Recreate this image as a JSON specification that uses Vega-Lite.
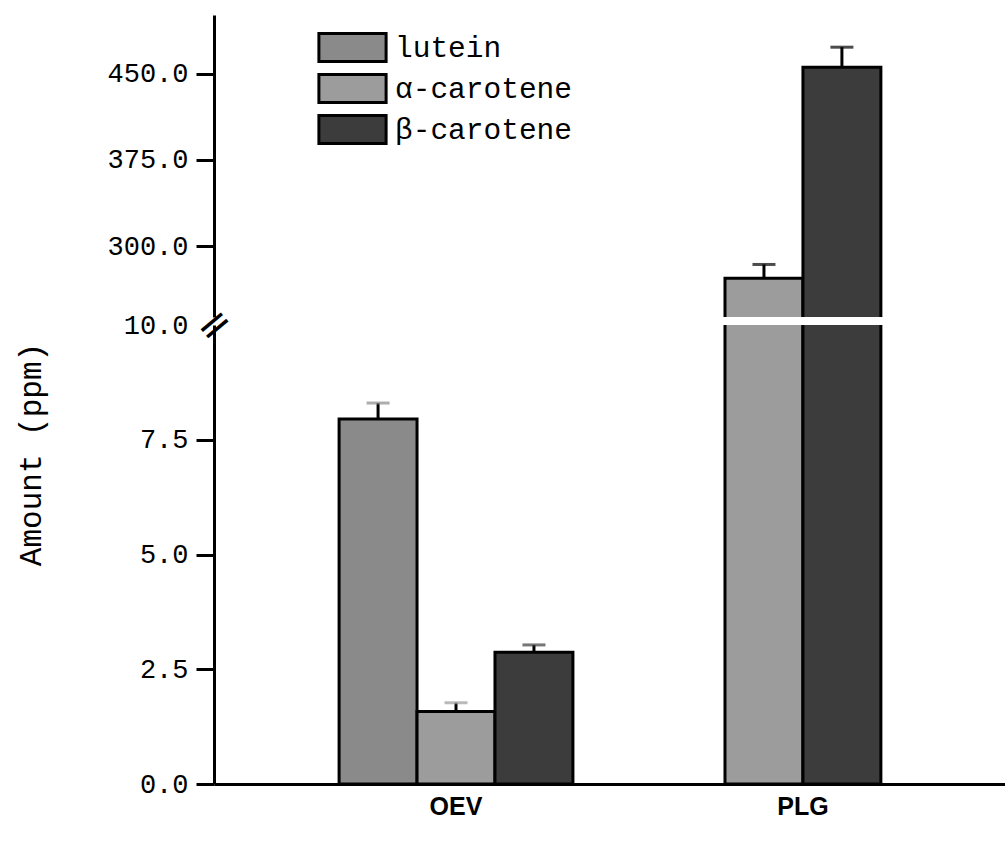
{
  "$schema": "https://vega.github.io/schema/vega-lite/v6.json",
  "background": "white",
  "padding": {"left": 15, "top": 15, "right": 0, "bottom": 0},
  "spacing": 8,
  "bounds": "flush",
  "config": {"view": {"stroke": null}, "font": "Liberation Mono"},
  "data": {
    "values": [
      {"group": "OEV", "pigment": "lutein", "amount": 7.95, "upper": 8.3},
      {"group": "OEV", "pigment": "α-carotene", "amount": 1.58, "upper": 1.77},
      {"group": "OEV", "pigment": "β-carotene", "amount": 2.87, "upper": 3.03},
      {"group": "PLG", "pigment": "α-carotene", "amount": 272, "upper": 284},
      {"group": "PLG", "pigment": "β-carotene", "amount": 455.5, "upper": 473}
    ]
  },
  "resolve": {"legend": {"fill": "independent"}},
  "vconcat": [
    {
      "width": 791,
      "height": 302,
      "transform": [{"filter": "datum.group == 'PLG'"}],
      "encoding": {
        "x": {"field": "group", "type": "nominal", "axis": null,
          "scale": {"domain": ["OEV", "PLG"], "paddingInner": 0.326, "paddingOuter": 0.303, "align": 0.595}},
        "xOffset": {"field": "pigment", "type": "nominal",
          "scale": {"domain": ["α-carotene", "β-carotene"], "paddingInner": 0, "paddingOuter": 0.5}}
      },
      "layer": [
        {
          "mark": {"type": "bar", "clip": true, "stroke": "black", "strokeWidth": 3},
          "encoding": {
            "y": {"field": "amount", "type": "quantitative",
              "scale": {"domain": [238.3, 501], "nice": false, "zero": false},
              "axis": {"values": [300, 375, 450], "format": ".1f", "title": null, "grid": false,
                "domainColor": "black", "domainWidth": 3, "tickColor": "black", "tickWidth": 3, "tickSize": 18,
                "labelFont": "Liberation Mono", "labelFontSize": 27, "labelColor": "black", "labelPadding": 8}},
            "fill": {"field": "pigment", "type": "nominal",
              "scale": {"domain": ["lutein", "α-carotene", "β-carotene"], "range": ["#8a8a8a", "#9c9c9c", "#3c3c3c"]},
              "legend": {"orient": "none", "legendX": 123, "legendY": 17, "title": null,
                "symbolType": "M-2.4,-1H2.4V1H-2.4Z", "symbolSize": 784, "symbolStrokeColor": "black", "symbolStrokeWidth": 3,
                "symbolOpacity": 1, "labelLimit": 0,
                "labelFont": "Liberation Mono", "labelFontSize": 29.5, "labelColor": "black", "labelOffset": 27, "rowPadding": 0}}
          }
        },
        {
          "mark": {"type": "rule", "clip": true, "color": "black", "strokeWidth": 3},
          "encoding": {"y": {"field": "amount", "type": "quantitative"}, "y2": {"field": "upper"}}
        },
        {
          "mark": {"type": "tick", "clip": true, "color": "black", "thickness": 3, "size": 23},
          "encoding": {"y": {"field": "upper", "type": "quantitative"}}
        }
      ]
    },
    {
      "width": 791,
      "height": 459,
      "encoding": {
        "x": {"field": "group", "type": "nominal",
          "scale": {"domain": ["OEV", "PLG"], "paddingInner": 0.326, "paddingOuter": 0.303, "align": 0.595},
          "axis": {"title": null, "ticks": false, "domainColor": "black", "domainWidth": 3, "labelAngle": 0,
            "labelFont": "Liberation Sans", "labelFontWeight": "bold", "labelFontSize": 25, "labelColor": "black", "labelPadding": 10}},
        "fill": {"field": "pigment", "type": "nominal",
          "scale": {"domain": ["lutein", "α-carotene", "β-carotene"], "range": ["#8a8a8a", "#9c9c9c", "#3c3c3c"]},
          "legend": null}
      },
      "layer": [
        {
          "transform": [{"filter": "datum.group == 'OEV'"}],
          "encoding": {
            "xOffset": {"field": "pigment", "type": "nominal",
              "scale": {"domain": ["lutein", "α-carotene", "β-carotene"], "paddingInner": 0, "paddingOuter": 0}}
          },
          "layer": [
            {
              "mark": {"type": "bar", "clip": true, "stroke": "black", "strokeWidth": 3},
              "encoding": {
                "y": {"field": "amount", "type": "quantitative",
                  "scale": {"domain": [0, 10], "nice": false},
                  "axis": {"values": [0, 2.5, 5, 7.5, 10], "format": ".1f", "title": "Amount (ppm)", "grid": false,
                    "domainColor": "black", "domainWidth": 3, "tickColor": "black", "tickWidth": 3, "tickSize": 18,
                    "tickOpacity": {"condition": {"test": "datum.value == 10", "value": 0}, "value": 1},
                    "labelFont": "Liberation Mono", "labelFontSize": 27, "labelColor": "black", "labelPadding": 8,
                    "titleFont": "Liberation Mono", "titleFontSize": 31, "titleFontWeight": "normal", "titleColor": "black",
                    "titlePadding": 76, "titleY": 129}}
              }
            },
            {
              "mark": {"type": "rule", "clip": true, "color": "black", "strokeWidth": 3},
              "encoding": {"y": {"field": "amount", "type": "quantitative"}, "y2": {"field": "upper"}}
            },
            {
              "mark": {"type": "tick", "clip": true, "color": "black", "thickness": 3, "size": 23},
              "encoding": {"y": {"field": "upper", "type": "quantitative"}}
            }
          ]
        },
        {
          "transform": [{"filter": "datum.group == 'PLG'"}],
          "mark": {"type": "bar", "clip": true, "stroke": "black", "strokeWidth": 3},
          "encoding": {
            "xOffset": {"field": "pigment", "type": "nominal",
              "scale": {"domain": ["α-carotene", "β-carotene"], "paddingInner": 0, "paddingOuter": 0.5}},
            "y": {"field": "amount", "type": "quantitative",
              "axis": {"orient": "left", "values": [10], "labelExpr": "'='", "domain": false, "ticks": false, "tickSize": 0,
                "grid": false, "title": null, "labelPadding": 0, "labelAngle": -40, "labelAlign": "center", "labelBaseline": "middle",
                "labelFont": "DejaVu Sans", "labelFontSize": 42, "labelColor": "black", "labelFlush": false, "labelOverlap": false}}
          }
        }
      ],
      "resolve": {"scale": {"xOffset": "independent"}, "axis": {"y": "independent"}}
    }
  ]
}
